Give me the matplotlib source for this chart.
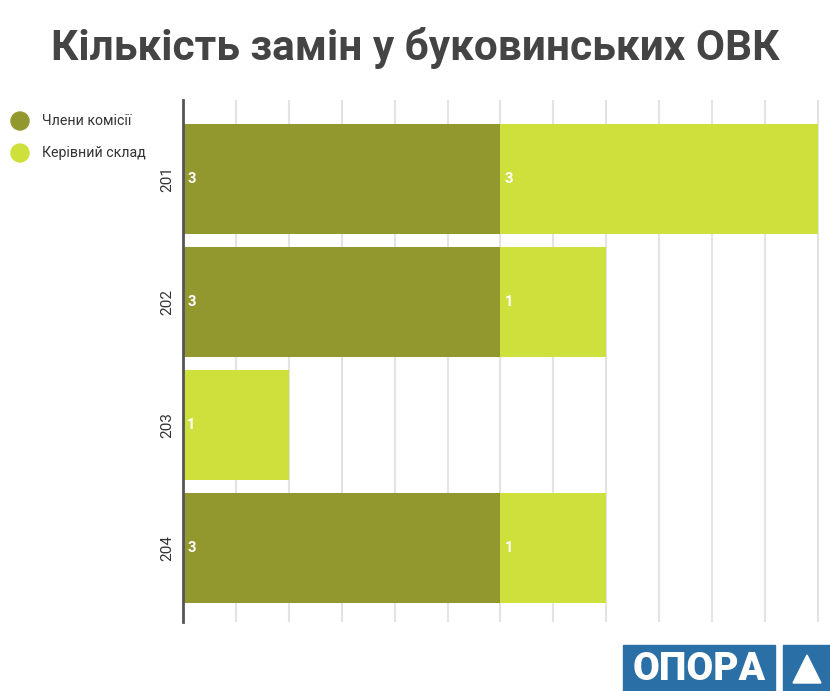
import matplotlib.pyplot as plt
from matplotlib.patches import Rectangle, Polygon, Circle
import numpy as np

plt.rcParams['font.family'] = ['Roboto', 'DejaVu Sans']

# -----------------------------
# Data
# -----------------------------
districts = ['201', '202', '203', '204']
members = [3, 3, 0, 3]      # Члени комісії
leaders = [3, 1, 1, 1]      # Керівний склад
series_names = ['Члени комісії', 'Керівний склад']
colors = ['#93982E', '#CDE03C']

fig = plt.figure(figsize=(8.3, 6.91), dpi=100)
ax = fig.add_axes([183 / 830, 1 - 622 / 691, 637 / 830, 522 / 691])

y = np.arange(len(districts))
ax.barh(y, members, height=0.895, color=colors[0], zorder=2)
ax.barh(y, leaders, left=members, height=0.895, color=colors[1], zorder=2)

# value labels at the start of each segment
for i in range(len(districts)):
    if members[i] > 0:
        ax.text(0.04, i, str(members[i]), color='white', fontweight='bold',
                fontsize=10.5, va='center', ha='left', zorder=3)
    if leaders[i] > 0:
        ax.text(members[i] + 0.04, i, str(leaders[i]), color='white',
                fontweight='bold', fontsize=10.5, va='center', ha='left', zorder=3)

ax.set_xlim(0, 6.02)
ax.set_ylim(3.6, -0.64)
ax.set_xticks(np.arange(0, 6.01, 0.5))
ax.set_xticklabels([])
ax.tick_params(axis='x', length=0)
ax.grid(axis='x', color='#e3e3e3', linewidth=1.5, zorder=0)
ax.set_yticks(y)
ax.set_yticklabels(districts, rotation=90, va='center', fontsize=11, color='#333333')
ax.tick_params(axis='y', length=0, pad=6)
for s in ['top', 'right', 'bottom']:
    ax.spines[s].set_visible(False)
ax.spines['left'].set_color('#555555')
ax.spines['left'].set_linewidth(2)

# title
fig.text(0.5, 1 - 48 / 691, 'Кількість замін у буковинських ОВК', ha='center', va='center',
         fontsize=30.5, fontweight='bold', color='#444444')

# legend (circles in inches so they stay round)
for k, name in enumerate(series_names):
    cy_px = 691 - (121 + 32 * k)
    fig.patches.append(Circle((0.20, cy_px / 100), 0.09,
                              transform=fig.dpi_scale_trans, color=colors[k]))
    fig.text(42 / 830, cy_px / 691, name, fontsize=10.2, color='#333333', va='center')

# logo
blue = '#2A6FA6'
fig.patches.append(Rectangle((623 / 830, 0), 152 / 830, 46 / 691,
                             transform=fig.transFigure, color=blue))
fig.patches.append(Rectangle((783 / 830, 0), 47 / 830, 46 / 691,
                             transform=fig.transFigure, color=blue))
fig.text(699 / 830, 22 / 691, 'ОПОРА', ha='center', va='center', color='white',
         fontsize=28, fontweight='black')
fig.patches.append(Polygon([(793 / 830, 8 / 691), (821 / 830, 8 / 691), (807 / 830, 36 / 691)],
                           closed=True, transform=fig.transFigure, color='white'))

fig.savefig('out.png', dpi=100)
